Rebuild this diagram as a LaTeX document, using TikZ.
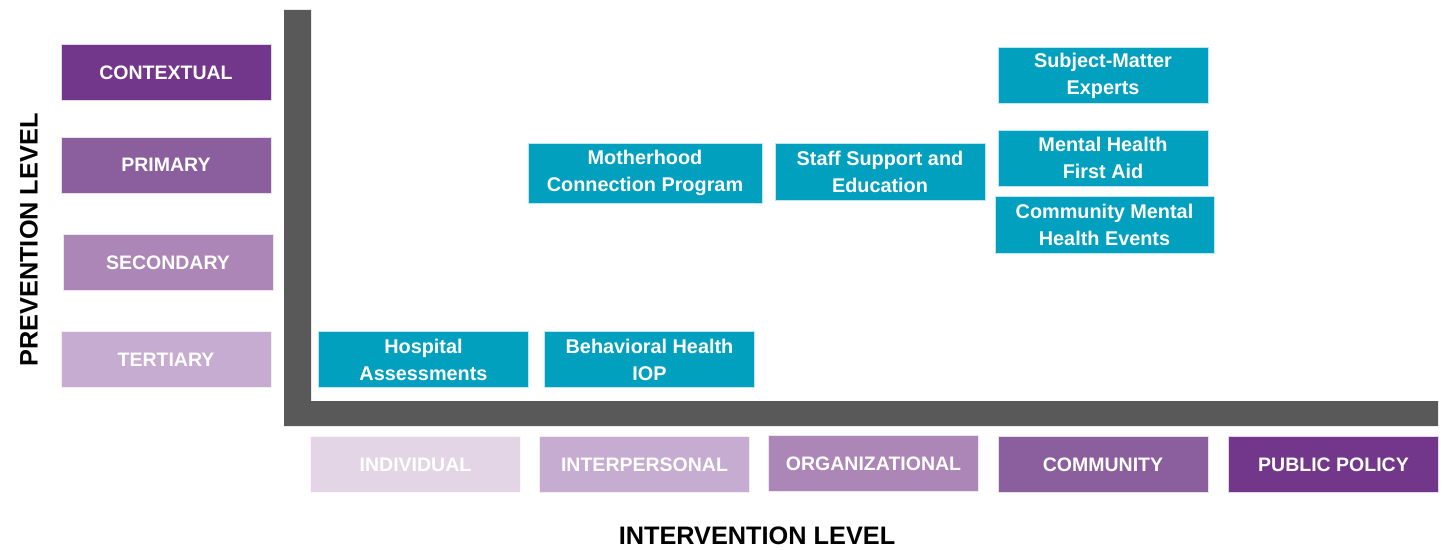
\documentclass[tikz,border=0pt]{standalone}
\usepackage{fontspec}
\setmainfont{Liberation Sans}
\usepackage{tikz}

\definecolor{plumA}{HTML}{72368A}
\definecolor{plumB}{HTML}{8B5E9E}
\definecolor{plumC}{HTML}{AB86B7}
\definecolor{plumD}{HTML}{C5ACD0}
\definecolor{plumE}{HTML}{E3D5E6}
\definecolor{tealbox}{HTML}{00A0BE}
\definecolor{axisgray}{HTML}{595959}

\begin{document}
\begin{tikzpicture}[x=0.02cm, y=-0.02cm,
	level box/.style={rectangle, draw=white!80!#1, line width=0.4pt, fill=#1, text=white,
		minimum width=4.2cm, minimum height=1.12cm, inner sep=0pt,
		font=\fontsize{11.1}{13}\selectfont\bfseries},
	prog box/.style={rectangle, draw=white!75!tealbox, line width=0.4pt, fill=tealbox, text=white,
		minimum width=4.2cm, minimum height=1.12cm, inner sep=0pt, align=center,
		font=\fontsize{11.3}{15.3}\selectfont\bfseries},
	axis title/.style={font=\fontsize{14.4}{16}\selectfont\bfseries}]
	
	\useasboundingbox (0,0) rectangle (1443,550);
	
	% axes
	\fill[axisgray] (284,10) -- (311,10) -- (311,401) -- (1438,401) -- (1438,426) -- (284,426) -- cycle;
	
	% prevention levels
	\node[level box=plumA] (contextual) at (166,72.5) {CONTEXTUAL};
	\node[level box=plumB] (primary) at (166,165) {PRIMARY};
	\node[level box=plumC] (secondary) at (168,262.5) {SECONDARY};
	\node[level box=plumD] (tertiary) at (166,359.5) {TERTIARY};
	\node[axis title, rotate=90] (prevention) at (29,240) {PREVENTION LEVEL};
	
	% intervention levels
	\node[level box=plumE] (individual) at (415.5,464.5) {INDIVIDUAL};
	\node[level box=plumD] (interpersonal) at (644.5,464.5) {INTERPERSONAL};
	\node[level box=plumC] (organizational) at (873.5,463.5) {ORGANIZATIONAL};
	\node[level box=plumB] (community) at (1103,464.5) {COMMUNITY};
	\node[level box=plumA] (policy) at (1333.5,464.5) {PUBLIC POLICY};
	\node[axis title] (intervention) at (757,536) {INTERVENTION LEVEL};
	
	% programs
	\node[prog box] (hospital) at (423.5,359.5) {Hospital\\Assessments};
	\node[prog box] (iop) at (649.5,359.5) {Behavioral Health\\IOP};
	\node[prog box, minimum width=4.68cm, minimum height=1.2cm] (motherhood) at (645,173) {Motherhood\\Connection Program};
	\node[prog box, minimum height=1.14cm] (staff) at (880,171.5) {Staff Support and\\Education};
	\node[prog box] (experts) at (1103,75.5) {Subject-Matter\\Experts};
	\node[prog box] (firstaid) at (1103,158) {Mental Health\\First Aid};
	\node[prog box, minimum width=4.38cm, minimum height=1.14cm] (events) at (1104.5,224.5) {Community Mental\\Health Events};
	
\end{tikzpicture}
\end{document}
